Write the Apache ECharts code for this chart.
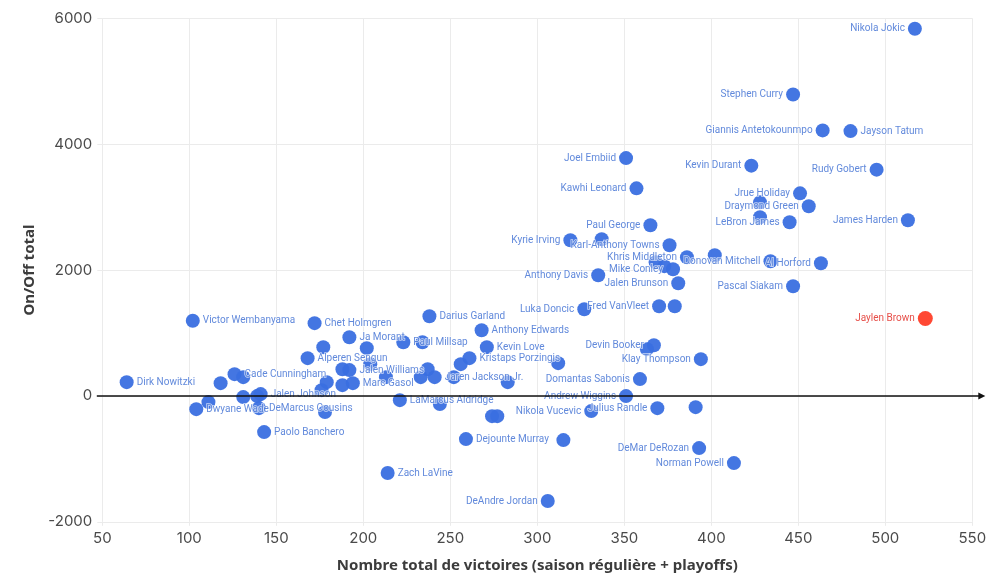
<!DOCTYPE html>
<html><head><meta charset="utf-8">
<script src="https://cdn.jsdelivr.net/npm/echarts@6/dist/echarts.min.js"></script>
<style>html,body{margin:0;padding:0;background:#fff}#c{width:991px;height:587px}</style>
</head><body><div id="c"></div>
<script>
// ---- data ----
const players = [
  'Nikola Jokic','Stephen Curry','Giannis Antetokounmpo','Jayson Tatum','Joel Embiid','Kevin Durant','Rudy Gobert',
  'Kawhi Leonard','Jrue Holiday','','Draymond Green','','LeBron James','James Harden','Paul George','Kyrie Irving','',
  'Karl-Anthony Towns','Khris Middleton','','Donovan Mitchell','Al Horford','','','Mike Conley','Jalen Brunson',
  'Anthony Davis','Pascal Siakam','Luka Doncic','Fred VanVleet','','Devin Booker','','Klay Thompson','',
  'Domantas Sabonis','Andrew Wiggins','Julius Randle','','Nikola Vucevic','','','Dejounte Murray','',
  'DeMar DeRozan','Norman Powell','DeAndre Jordan','Zach LaVine','Paolo Banchero','Victor Wembanyama',
  'Dirk Nowitzki','Dwyane Wade','','','Cade Cunningham','','','','Jalen Johnson','DeMarcus Cousins',
  'Chet Holmgren','','Alperen Sengun','Ja Morant','','','Jalen Williams','','','','','','Marc Gasol','',
  'Paul Millsap','','Darius Garland','Anthony Edwards','Kevin Love','Kristaps Porzingis','','','',
  'Jaren Jackson Jr.','','','LaMarcus Aldridge',''
];
const wins = [
  517,447,464,480,351,423,495,
  357,451,428,456,428,445,513,365,319,337,
  376,386,402,434,463,368,373,378,381,
  335,447,327,370,379,367,363,394,312,
  359,351,369,391,331,274,277,259,315,
  393,413,306,214,143,102,
  64,104,111,118,126,131,131,139,141,140,
  172,177,168,192,202,188,192,204,179,176,178,188,194,213,
  223,234,238,268,271,261,256,237,233,
  241,252,283,221,244
];
const onOff = [
  5833,4790,4219,4208,3779,3659,3595,
  3298,3219,3076,3013,2838,2759,2791,2711,2473,2489,
  2394,2203,2235,2140,2108,2124,2062,2013,1790,
  1917,1743,1378,1425,1425,806,743,584,521,
  267,-3,-194,-178,-241,-321,-321,-686,-702,
  -829,-1067,-1670,-1225,-575,1195,
  219,-210,-98,203,346,298,-19,-3,29,-194,
  1156,775,600,933,759,425,410,505,219,92,-257,171,203,298,
  854,854,1267,1044,775,600,505,425,298,
  298,298,219,-67,-130
];
const highlightPlayers = ['Jaylen Brown'];
const highlightWins = [523];
const highlightOnOff = [1230];
const xRange = [50, 550, 50];
const yRange = [-2000, 6000, 2000];

// ---- chart ----
const chart = echarts.init(document.getElementById('c'), null, {renderer: 'canvas'});
const labelThreshold = 300;
const labelRightOverride = ['Jayson Tatum'];
const pts = (ns, xs, ys) => ns.map((n, i) => ({value: [xs[i], ys[i]], name: n}));
const lbl = (ns, xs, ys) => ns.map((n, i) => ({
  value: [xs[i], ys[i]], name: n,
  label: {show: n !== '', position: (xs[i] < labelThreshold || labelRightOverride.includes(n)) ? 'right' : 'left'}
}));

const gridCol = '#ebebeb';
const tickFont = {fontFamily: 'Inter', fontSize: 15, color: '#4a4a4a'};
const titleFont = {fontFamily: 'Noto Sans', fontSize: 15, fontWeight: 'bold', color: '#3c3c3c'};
const ptLabel = {formatter: p => p.name, fontFamily: 'Roboto', fontSize: 10, distance: 3,
  textBorderColor: 'rgba(255,255,255,0.85)', textBorderWidth: 1.6};

chart.setOption({
  animation: false,
  backgroundColor: '#fff',
  grid: {left: 102.3, right: 18.7, top: 18.3, bottom: 65.2},
  xAxis: {
    type: 'value', min: xRange[0], max: xRange[1], interval: xRange[2],
    position: 'bottom',
    axisLine: {show: false, onZero: false},
    axisTick: {show: true, length: 4, lineStyle: {color: gridCol}},
    splitLine: {show: true, lineStyle: {color: gridCol, width: 1}},
    axisLabel: Object.assign({margin: 9}, tickFont),
    name: 'Nombre total de victoires (saison régulière + playoffs)',
    nameLocation: 'middle', nameGap: 36,
    nameTextStyle: titleFont
  },
  yAxis: {
    type: 'value', min: yRange[0], max: yRange[1], interval: yRange[2],
    axisLine: {show: false},
    axisTick: {show: true, length: 5, lineStyle: {color: gridCol}},
    splitLine: {show: true, lineStyle: {color: gridCol, width: 1}},
    axisLabel: Object.assign({margin: 10, formatter: v => String(v)}, tickFont),
    name: 'On/Off total', nameLocation: 'middle', nameGap: 62, nameRotate: 90,
    nameTextStyle: titleFont
  },
  series: [
    {
      type: 'scatter', symbolSize: 14, data: pts(players, wins, onOff),
      itemStyle: {color: '#3a6fe0', opacity: 0.95},
      label: {show: false}, emphasis: {disabled: true}, z: 3
    },
    {
      type: 'scatter', symbolSize: 15, data: pts(highlightPlayers, highlightWins, highlightOnOff),
      itemStyle: {color: '#ff1a00'},
      label: {show: false}, emphasis: {disabled: true}, z: 4
    },
    {
      type: 'scatter', symbolSize: 14, data: lbl(players, wins, onOff), silent: true,
      itemStyle: {color: 'rgba(0,0,0,0)'},
      label: Object.assign({color: '#3a6bd2'}, ptLabel),
      emphasis: {disabled: true}, z: 5
    },
    {
      type: 'scatter', symbolSize: 15, data: lbl(highlightPlayers, highlightWins, highlightOnOff), silent: true,
      itemStyle: {color: 'rgba(0,0,0,0)'},
      label: Object.assign({color: '#e0221a'}, ptLabel),
      emphasis: {disabled: true}, z: 6
    }
  ]
});

// zero line with arrow, positioned from the axis scales
const p0 = chart.convertToPixel({gridIndex: 0}, [xRange[0], 0]);
const p1 = chart.convertToPixel({gridIndex: 0}, [xRange[1], 0]);
const yz = p0[1];
const x0 = p0[0] - 5.5, x1 = p1[0] + 11;
chart.setOption({
  graphic: [
    {type: 'line', z: 10, shape: {x1: x0, y1: yz, x2: x1 - 2, y2: yz}, style: {stroke: '#111', lineWidth: 1.4}},
    {type: 'polygon', z: 10, shape: {points: [[x1 + 2, yz], [x1 - 5, yz - 3.5], [x1 - 5, yz + 3.5]]}, style: {fill: '#111'}}
  ]
});
</script>
</body></html>
